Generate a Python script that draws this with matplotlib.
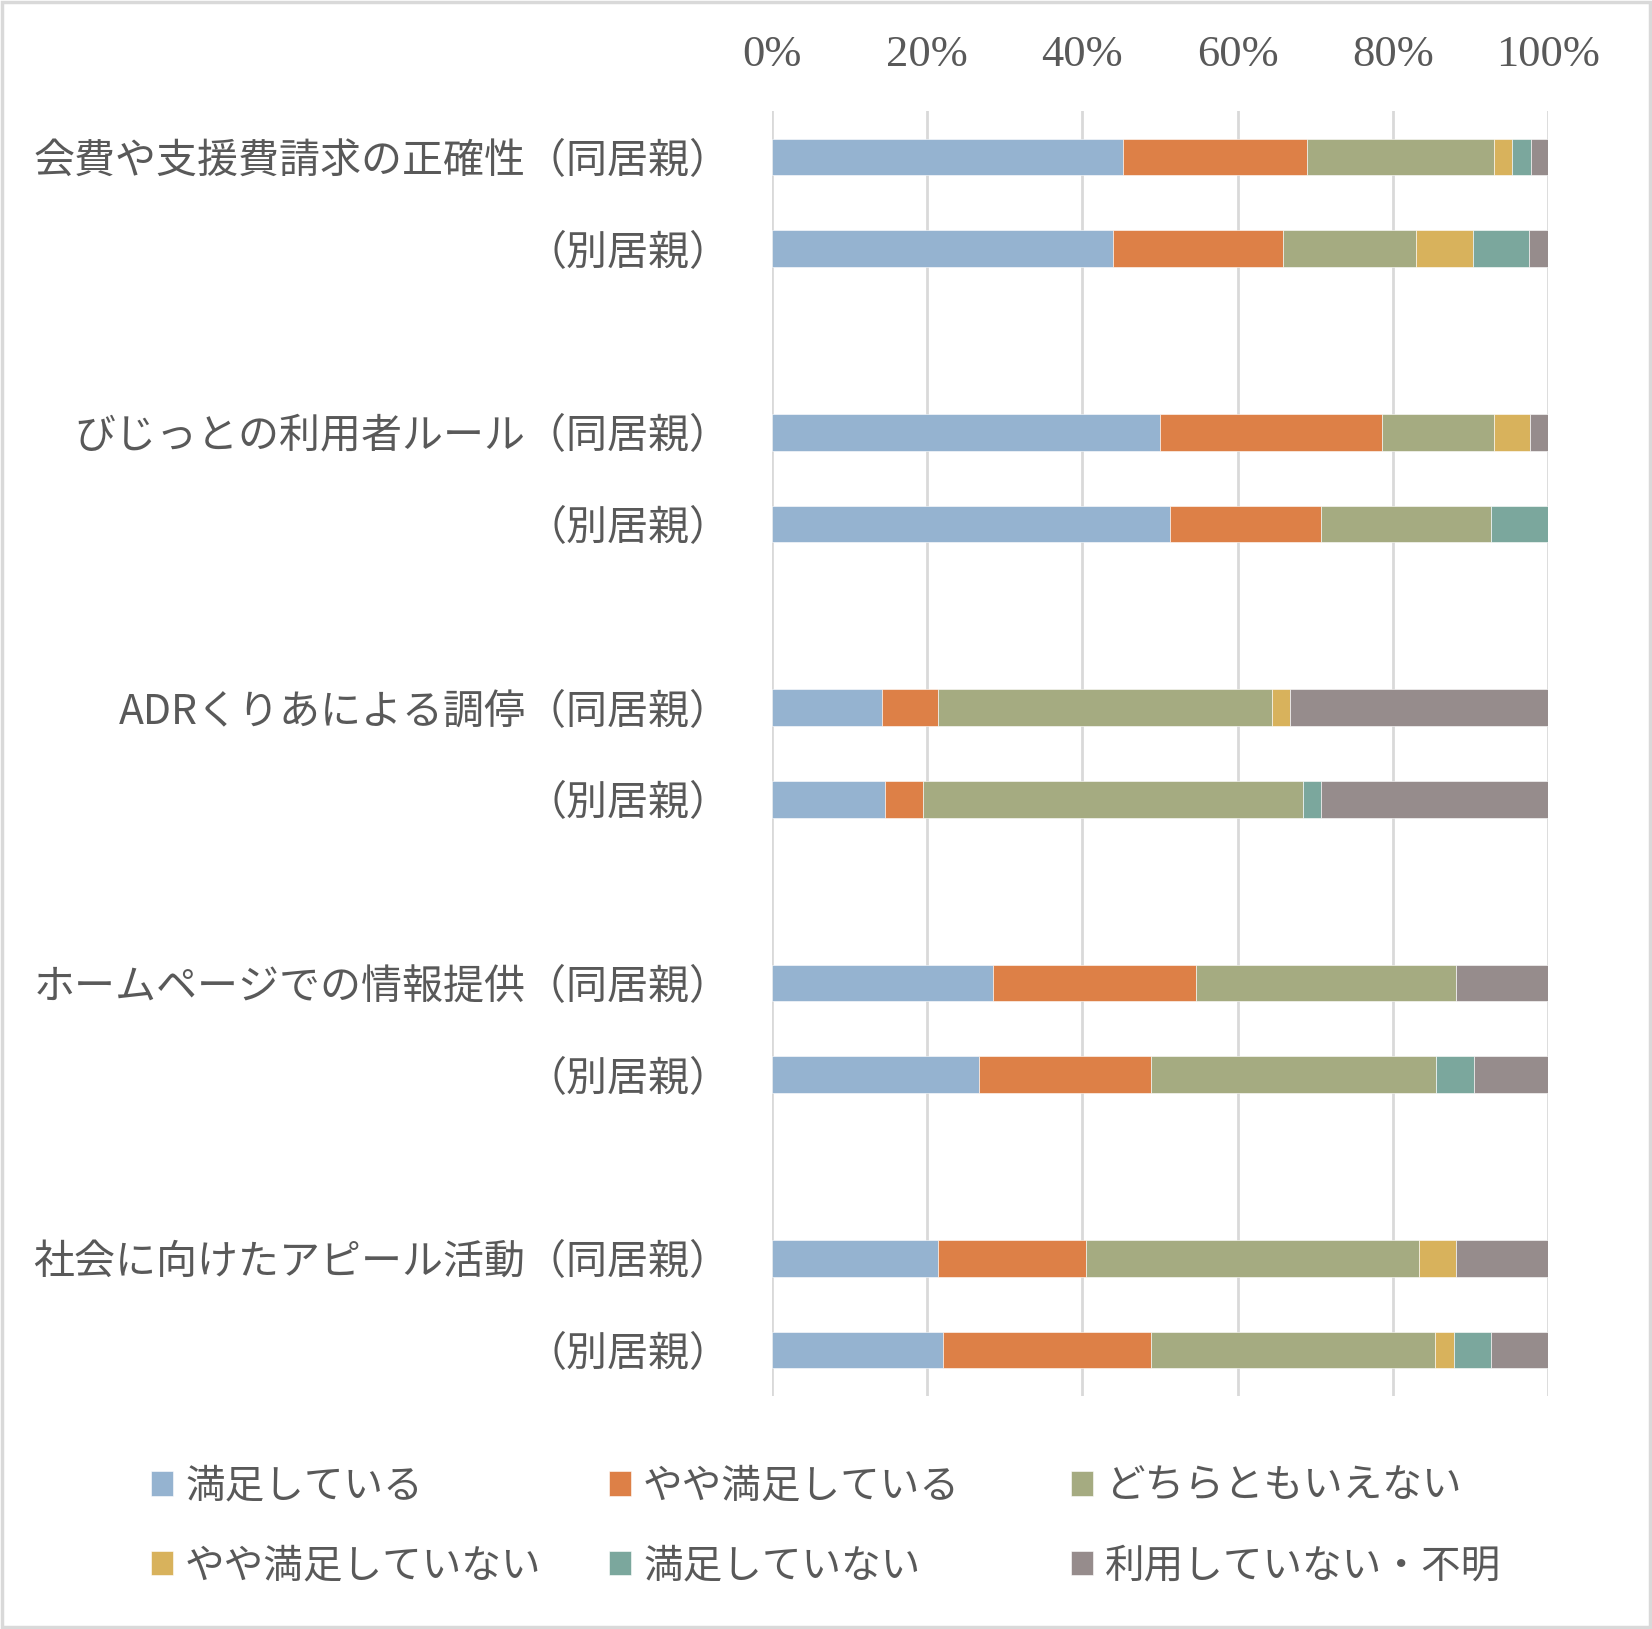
import matplotlib.pyplot as plt
from matplotlib.patches import Rectangle

plt.rcParams['font.family'] = ['Noto Sans CJK JP', 'DejaVu Sans']

items = ['会費や支援費請求の正確性', 'びじっとの利用者ルール', 'ADRくりあによる調停',
         'ホームページでの情報提供', '社会に向けたアピール活動']
series = ['満足している', 'やや満足している', 'どちらともいえない',
          'やや満足していない', '満足していない', '利用していない・不明']
colors = ['#95B3D0', '#DD8047', '#A5AB81', '#D8B25C', '#7BA79D', '#968C8C']

# rows: for each item, (同居親) then (別居親), percent
satisfied =        [45.2, 43.9, 50.0, 51.3, 14.2, 14.6, 28.5, 26.7, 21.4, 22.0]
fairly_satisfied = [23.8, 22.0, 28.6, 19.4, 7.2, 4.9, 26.2, 22.1, 19.0, 26.8]
neutral =          [24.0, 17.1, 14.4, 22.0, 43.0, 48.9, 33.5, 36.8, 43.0, 36.7]
fairly_unsat =     [2.3, 7.3, 4.7, 0.0, 2.4, 0.0, 0.0, 0.0, 4.8, 2.4]
unsatisfied =      [2.5, 7.3, 0.0, 7.3, 0.0, 2.4, 0.0, 4.8, 0.0, 4.8]
not_used =         [2.2, 2.4, 2.3, 0.0, 33.2, 29.2, 11.8, 9.6, 11.8, 7.3]
values = [satisfied, fairly_satisfied, neutral, fairly_unsat, unsatisfied, not_used]

text_color = '#595959'
fs = 28.5

fig = plt.figure(figsize=(16.52, 16.29), dpi=100)
ax = fig.add_axes([772 / 1652, 1 - 1396 / 1629, (1548 - 772) / 1652, (1396 - 111) / 1629])

positions = []
labels = []
for g, name in enumerate(items):
    positions += [g * 3, g * 3 + 1]
    labels += [name + '（同居親）', '（別居親）']

left = [0.0] * len(positions)
handles = []
for vals, name, c in zip(values, series, colors):
    b = ax.barh(positions, vals, left=left, height=0.4, color=c, label=name,
                edgecolor='white', linewidth=0.4)
    handles.append(b)
    left = [l + v for l, v in zip(left, vals)]

ax.set_xlim(0, 100)
ax.set_ylim(13.5, -0.5)
ax.set_xticks([0, 20, 40, 60, 80, 100])
ax.set_xticklabels(['0%', '20%', '40%', '60%', '80%', '100%'],
                   fontsize=32, color=text_color, family=['Liberation Serif'])
ax.xaxis.tick_top()
ax.tick_params(axis='x', length=0, pad=26)
ax.set_yticks(positions)
ax.set_yticklabels(labels, fontsize=29.5, color=text_color)
ax.tick_params(axis='y', length=0, pad=30)
ax.grid(axis='x', color='#D9D9D9', linewidth=2)
ax.set_axisbelow(True)
for s in ax.spines.values():
    s.set_visible(False)

# legend: three columns of two entries, row-wise like the original
col_x = [115 / 1652, 573 / 1652, 1035 / 1652]
for k in range(3):
    leg = fig.legend([handles[k], handles[k + 3]], [series[k], series[k + 3]],
                     loc='upper left', bbox_to_anchor=(col_x[k], 1 - 1431 / 1629),
                     frameon=False, fontsize=fs, handlelength=0.57, handleheight=0.57,
                     handletextpad=0.3, labelspacing=1.0, labelcolor=text_color)

fig.add_artist(Rectangle((0.001, 0.001), 0.998, 0.998, transform=fig.transFigure,
                         fill=False, edgecolor='#D9D9D9', linewidth=2.5))

fig.savefig('out.png', dpi=100)
